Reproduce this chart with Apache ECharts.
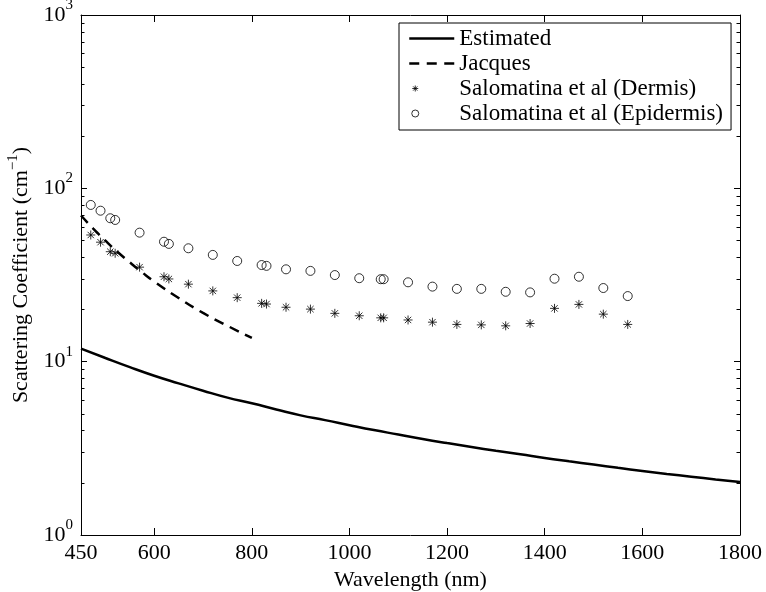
<!DOCTYPE html>
<html>
<head>
<meta charset="utf-8">
<script src="https://cdn.jsdelivr.net/npm/echarts@6/dist/echarts.min.js"></script>
<style>
  html, body { margin: 0; padding: 0; background: #fff; }
  #chart { width: 766px; height: 592px; }
</style>
</head>
<body>
<div id="chart"></div>
<script>
// Model estimate of the scattering coefficient (cm^-1) versus wavelength (nm)
var estimatedWavelength = [450, 500, 550, 600, 650, 700, 750, 800, 850, 900, 950, 1000, 1050, 1100,
  1150, 1200, 1250, 1300, 1350, 1400, 1450, 1500, 1550, 1600, 1650, 1700, 1750, 1800];
var estimatedValues = [11.9, 10.5, 9.3, 8.3, 7.5, 6.8, 6.2, 5.75, 5.3, 4.9, 4.6, 4.3, 4.03, 3.8,
  3.58, 3.39, 3.22, 3.06, 2.92, 2.78, 2.66, 2.55, 2.44, 2.34, 2.25, 2.17, 2.09, 2.02];

// Jacques curve (visible range 450-800 nm)
var jacquesWavelength = [450, 475, 500, 525, 550, 575, 600, 650, 700, 750, 800];
var jacquesValues = [69.7, 58.6, 49.9, 42.9, 37.4, 32.8, 29.0, 23.3, 19.1, 16.1, 13.7];

// Salomatina et al measurements
var salomatinaWavelength = [470, 490, 510, 520, 570, 620, 630, 670, 720, 770, 820, 830, 870, 920,
  970, 1020, 1064, 1070, 1120, 1170, 1220, 1270, 1320, 1370, 1420, 1470, 1520, 1570];
var dermisValues = [53.8, 48.9, 43.1, 42.2, 35.1, 30.9, 30.0, 28.0, 25.6, 23.4, 21.7, 21.5, 20.6, 20.1,
  19.0, 18.4, 17.9, 17.9, 17.4, 16.9, 16.4, 16.3, 16.1, 16.6, 20.3, 21.4, 18.8, 16.4];
var epidermisValues = [80.2, 74.3, 67.2, 65.7, 55.5, 49.2, 47.8, 45.1, 41.3, 38.1, 36.1, 35.7, 34.1, 33.4,
  31.6, 30.3, 29.9, 29.9, 28.7, 27.1, 26.3, 26.3, 25.3, 25.1, 30.1, 30.9, 26.6, 23.9];

// Axis ticks
var xLabelValues = [450, 600, 800, 1000, 1200, 1400, 1600, 1800];
var xTickValues = [600, 800, 1000, 1200, 1400, 1600, 1800];
var yMinorTickValues = [2, 3, 4, 5, 6, 7, 8, 9, 20, 30, 40, 50, 60, 70, 80, 90,
  200, 300, 400, 500, 600, 700, 800, 900];

var FONT = 'Liberation Serif';
var BLACK = '#000';

function pairs(xs, ys) {
  return xs.map(function (x, i) { return [x, ys[i]]; });
}

var asteriskSymbol = 'path://M0,-1L0,1M-1,0L1,0M-0.7071,-0.7071L0.7071,0.7071M-0.7071,0.7071L0.7071,-0.7071';
// legend icons drawn inside a 45x9 box
var solidLegendIcon = 'path://M0,0M45,9M0,4.5L45,4.5';
var dashedLegendIcon = 'path://M0,0M45,9M0,4.5L10,4.5M17.5,4.5L27.5,4.5M35,4.5L45,4.5';
var asteriskLegendIcon = 'path://M0,0M45,9M6,1.5L6,7.5M3,4.5L9,4.5M3.9,2.4L8.1,6.6M3.9,6.6L8.1,2.4';
var circleLegendIcon = 'path://M0,0M45,9M9.5,4.5A3.5,3.5,0,1,1,2.5,4.5A3.5,3.5,0,1,1,9.5,4.5Z';

var minorTickExp = yMinorTickValues.map(function (v) { return Math.log10(v); });

var markerStyle = { color: 'rgba(0,0,0,0)', borderColor: BLACK, borderWidth: 1 };
var legendLineStyle = { color: 'rgba(0,0,0,0)', borderColor: BLACK, borderWidth: 2.5 };

function frameAxis(extra) {
  var base = {
    axisLine: { show: true, onZero: false, lineStyle: { color: BLACK, width: 1 } },
    splitLine: { show: false },
    minorTick: { show: false },
    minorSplitLine: { show: false }
  };
  for (var k in extra) base[k] = extra[k];
  return base;
}

var chart = echarts.init(document.getElementById('chart'), null, { renderer: 'canvas' });

chart.setOption({
  animation: false,
  backgroundColor: '#fff',
  textStyle: { fontFamily: FONT },
  grid: { left: 81, right: 26, top: 15, bottom: 57, containLabel: false, outerBoundsMode: 'none' },
  xAxis: [
    frameAxis({
      type: 'value', position: 'bottom', min: 450, max: 1800,
      axisTick: { show: true, inside: true, length: 7, customValues: xTickValues, lineStyle: { color: BLACK } },
      axisLabel: {
        show: true, customValues: xLabelValues, margin: 7, color: BLACK, fontFamily: FONT, fontSize: 22,
        formatter: function (v) { return String(v); }
      },
      name: 'Wavelength (nm)', nameLocation: 'middle', nameGap: 32,
      nameTextStyle: { color: BLACK, fontFamily: FONT, fontSize: 22 }
    }),
    frameAxis({
      type: 'value', position: 'top', min: 450, max: 1800,
      axisTick: { show: true, inside: true, length: 7, customValues: xTickValues, lineStyle: { color: BLACK } },
      axisLabel: { show: false }
    })
  ],
  yAxis: [
    frameAxis({
      type: 'log', logBase: 10, min: 1, max: 1000, position: 'left',
      axisTick: { show: true, inside: true, length: 6, lineStyle: { color: BLACK } },
      axisLabel: {
        show: true, margin: 8, color: BLACK,
        formatter: function (v) {
          var e = Math.round(Math.log10(v));
          return '{b|10}{s|' + e + '}';
        },
        rich: {
          b: { fontFamily: FONT, fontSize: 22, color: BLACK },
          s: { fontFamily: FONT, fontSize: 15, color: BLACK, padding: [0, 0, 20, 0] }
        }
      },
      name: '{n|Scattering Coefficient (cm}{s|\u22121}{n|)}',
      nameLocation: 'middle', nameGap: 42,
      nameTextStyle: {
        rich: {
          n: { fontFamily: FONT, fontSize: 22, color: BLACK },
          s: { fontFamily: FONT, fontSize: 15, color: BLACK, padding: [0, 0, 18, 0] }
        }
      }
    }),
    frameAxis({
      type: 'log', logBase: 10, min: 1, max: 1000, position: 'right',
      axisTick: { show: true, inside: true, length: 6, lineStyle: { color: BLACK } },
      axisLabel: { show: false }
    }),
    frameAxis({
      type: 'value', min: 0, max: 3, position: 'left',
      axisLine: { show: false, onZero: false },
      axisTick: { show: true, inside: true, length: 3.5, customValues: minorTickExp, lineStyle: { color: BLACK } },
      axisLabel: { show: false }
    }),
    frameAxis({
      type: 'value', min: 0, max: 3, position: 'right',
      axisLine: { show: false, onZero: false },
      axisTick: { show: true, inside: true, length: 3.5, customValues: minorTickExp, lineStyle: { color: BLACK } },
      axisLabel: { show: false }
    })
  ],
  legend: {
    orient: 'vertical', left: 399, top: 23,
    padding: [4, 8, 5, 9],
    itemGap: 2, itemWidth: 45, itemHeight: 9,
    borderColor: BLACK, borderWidth: 1, backgroundColor: '#fff',
    textStyle: { fontFamily: FONT, fontSize: 23, color: BLACK, lineHeight: 22 },
    itemStyle: { borderWidth: 1 },
    data: [
      { name: 'Estimated', icon: solidLegendIcon, itemStyle: legendLineStyle },
      { name: 'Jacques', icon: dashedLegendIcon, itemStyle: legendLineStyle },
      { name: 'Salomatina et al (Dermis)', icon: asteriskLegendIcon },
      { name: 'Salomatina et al (Epidermis)', icon: circleLegendIcon }
    ]
  },
  series: [
    {
      name: 'Estimated', type: 'line', xAxisIndex: 0, yAxisIndex: 0,
      data: pairs(estimatedWavelength, estimatedValues),
      symbol: 'none', smooth: true, clip: true,
      lineStyle: { color: BLACK, width: 2.5 },
      itemStyle: { color: BLACK }
    },
    {
      name: 'Jacques', type: 'line', xAxisIndex: 0, yAxisIndex: 0,
      data: pairs(jacquesWavelength, jacquesValues),
      symbol: 'none', smooth: true, clip: true,
      lineStyle: { color: BLACK, width: 2.5, type: [10, 7] },
      itemStyle: { color: BLACK }
    },
    {
      name: 'Salomatina et al (Dermis)', type: 'scatter', xAxisIndex: 0, yAxisIndex: 0,
      data: pairs(salomatinaWavelength, dermisValues),
      symbol: asteriskSymbol, symbolSize: 9,
      itemStyle: markerStyle
    },
    {
      name: 'Salomatina et al (Epidermis)', type: 'scatter', xAxisIndex: 0, yAxisIndex: 0,
      data: pairs(salomatinaWavelength, epidermisValues),
      symbol: 'circle', symbolSize: 9,
      itemStyle: markerStyle
    }
  ]
});
</script>
</body>
</html>
